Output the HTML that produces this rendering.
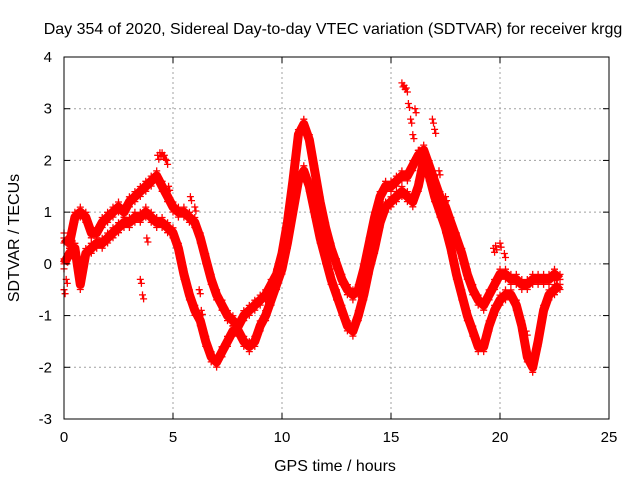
<!DOCTYPE html>
<html><head><meta charset="utf-8"><style>
body{margin:0;background:#fff}
svg{display:block;font-family:"Liberation Sans",sans-serif}
</style></head><body>
<svg id="chart" width="640" height="480">
<g id="grid"></g>
<g id="marks"></g>
<rect x="64" y="57" width="545" height="362" fill="none" stroke="#000"/>
<g id="ticks"></g>
<text x="333" y="34" text-anchor="middle" font-size="16">Day 354 of 2020, Sidereal Day-to-day VTEC variation (SDTVAR) for receiver krgg</text>
<text x="335" y="471" text-anchor="middle" font-size="16">GPS time / hours</text>
<text x="0" y="0" transform="translate(19,238) rotate(-90)" text-anchor="middle" font-size="16">SDTVAR / TECUs</text>
</svg>
<script>
const xTicks=[0,5,10,15,20,25];
const yTicks=[4,3,2,1,0,-1,-2,-3];
const stepHours=0.25;
const traceA=[0.5,0.4,0.9,1.0,0.9,0.6,0.6,0.8,0.9,1.0,1.1,1.0,1.2,1.3,1.4,1.5,1.6,1.7,1.5,1.3,1.1,1.0,1.0,0.9,0.8,0.5,0.1,-0.3,-0.6,-0.8,-1.0,-1.1,-1.2,-1.0,-0.9,-0.8,-0.7,-0.6,-0.4,-0.2,0.2,0.8,1.6,2.5,2.7,2.4,1.8,1.2,0.7,0.3,0,-0.3,-0.5,-0.6,-0.5,-0.1,0.4,0.9,1.3,1.5,1.5,1.6,1.7,1.7,1.9,2.1,2.2,1.9,1.6,1.3,1.1,0.8,0.5,0.2,-0.2,-0.5,-0.7,-0.8,-0.6,-0.4,-0.2,-0.2,-0.3,-0.3,-0.4,-0.4,-0.3,-0.3,-0.3,-0.3,-0.2,-0.3];
const traceB=[0.0,0.2,0.3,-0.4,0.2,0.3,0.4,0.4,0.5,0.6,0.7,0.8,0.8,0.9,0.9,1.0,0.9,0.8,0.8,0.7,0.6,0.3,-0.2,-0.6,-0.9,-1.1,-1.5,-1.8,-1.9,-1.7,-1.5,-1.3,-1.3,-1.5,-1.6,-1.5,-1.2,-1.0,-0.7,-0.4,-0.1,0.4,1.0,1.6,1.8,1.5,1.0,0.5,0.1,-0.3,-0.6,-0.9,-1.2,-1.3,-1.0,-0.6,-0.1,0.3,0.8,1.1,1.2,1.3,1.4,1.3,1.2,1.5,2.0,1.7,1.3,1.0,0.7,0.3,-0.2,-0.6,-1.0,-1.3,-1.6,-1.6,-1.2,-0.9,-0.7,-0.6,-0.6,-0.8,-1.2,-1.8,-2.0,-1.5,-0.9,-0.6,-0.5,-0.4];
const extraHours=[0,0.1,3.5,3.6,3.8,4.3,4.4,4.5,4.6,4.7,4.8,5.8,6.0,6.2,6.3,15.5,15.6,15.7,15.8,15.9,16.0,16.1,16.3,16.9,17.0,17.2,17.5,19.7,19.8,20.0,20.2,21.2];
const extraValues=[-0.5,-0.3,-0.3,-0.6,0.5,2.1,2.15,2.15,2.1,2.0,1.5,1.3,1.1,-0.5,-0.9,3.5,3.45,3.4,3.1,2.8,2.5,3.0,2.2,2.8,2.6,1.8,1.3,0.3,0.35,0.4,0.2,-1.3];
const NS='http://www.w3.org/2000/svg';
const L=64,R=609,T=57,B=419,X0=0,X1=25,Y0=-3,Y1=4;
const sx=v=>L+(v-X0)/(X1-X0)*(R-L);
const sy=v=>B-(v-Y0)/(Y1-Y0)*(B-T);
const grid=document.getElementById('grid'),ticks=document.getElementById('ticks'),marks=document.getElementById('marks');
function line(p,x1,y1,x2,y2,st,dash){const l=document.createElementNS(NS,'line');l.setAttribute('x1',x1);l.setAttribute('y1',y1);l.setAttribute('x2',x2);l.setAttribute('y2',y2);l.setAttribute('stroke',st);if(dash)l.setAttribute('stroke-dasharray',dash);p.appendChild(l);return l;}
function txt(p,x,y,s,anchor){const t=document.createElementNS(NS,'text');t.setAttribute('x',x);t.setAttribute('y',y);t.setAttribute('font-size','15');t.setAttribute('text-anchor',anchor);t.textContent=s;p.appendChild(t);return t;}
xTicks.forEach(v=>{const x=sx(v);
 if(v>X0&&v<X1){const g=line(grid,x,T,x,B,'#a0a0a0','2,3');}
 line(ticks,x,B,x,B-6,'#000');line(ticks,x,T,x,T+6,'#000');
 const t=txt(ticks,x,B+23,String(v),'middle');
 
 });
yTicks.forEach(v=>{const y=sy(v);
 if(v>Y0&&v<Y1){const g=line(grid,L,y,R,y,'#a0a0a0','2,3');}
 line(ticks,L,y,L+6,y,'#000');line(ticks,R,y,R-6,y,'#000');
 const t=txt(ticks,L-12,y+5,String(v),'end');
 
 });
let d='';
function plus(h,v,dy){const x=sx(h),y=sy(v)+dy;d+=`M${(x-3.5).toFixed(1)} ${y.toFixed(1)}h7M${x.toFixed(1)} ${(y-3.5).toFixed(1)}v7`;}
const spread=[-5,0,5];
traceA.forEach((v,i)=>spread.forEach(o=>plus(i*stepHours,v,o)));
traceB.forEach((v,i)=>spread.forEach(o=>plus(i*stepHours,v,o)));
extraHours.forEach((h,i)=>{plus(h,extraValues[i],0);plus(h+0.05,extraValues[i],4);});
const p=document.createElementNS(NS,'path');
p.setAttribute('d',d);p.setAttribute('stroke','#ff0000');p.setAttribute('stroke-width','1.3');p.setAttribute('fill','none');


marks.appendChild(p);
[traceA,traceB].forEach((arr,k)=>{const pl=document.createElementNS(NS,'polyline');
 pl.setAttribute('points',arr.map((v,i)=>sx(i*stepHours).toFixed(1)+','+sy(v).toFixed(1)).join(' '));
 pl.setAttribute('fill','none');pl.setAttribute('stroke','#ff0000');pl.setAttribute('stroke-width','9');pl.setAttribute('stroke-linejoin','round');
 
 
 marks.appendChild(pl);});
</script>
</body></html>
